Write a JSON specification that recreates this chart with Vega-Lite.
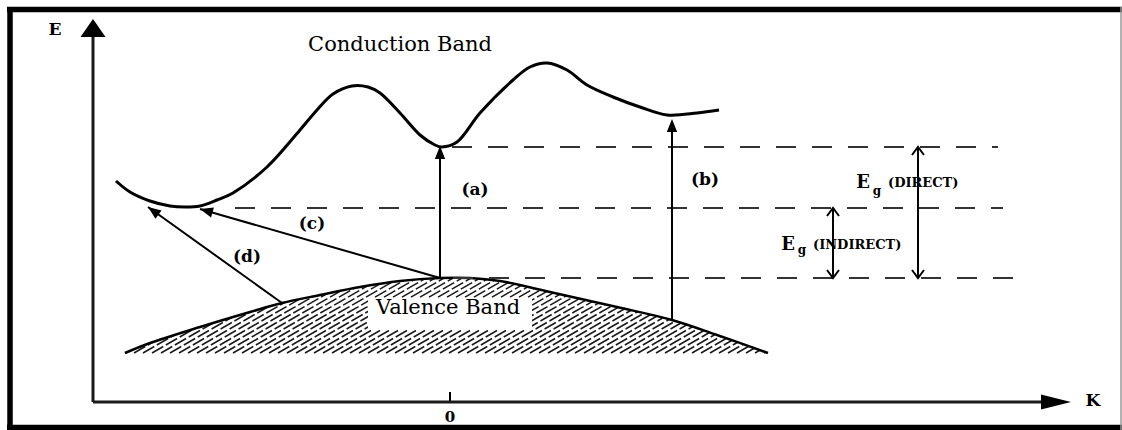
{
  "$schema": "https://vega.github.io/schema/vega-lite/v6.json",
  "width": 1122,
  "height": 430,
  "padding": 0,
  "autosize": {"type": "none"},
  "background": "white",
  "config": {"view": {"stroke": null}},
  "encoding": {
    "x": {"field": "k", "type": "quantitative", "scale": {"domain": [-450, 672], "nice": false, "zero": false}, "axis": null},
    "y": {"field": "e", "type": "quantitative", "scale": {"domain": [-27, 403], "nice": false, "zero": false}, "axis": null}
  },
  "datasets": {
    "hatch": [
      {"k": -325, "k2": -195, "e": 50, "e2": 125}, {"k": -316, "k2": -186, "e": 50, "e2": 125},
      {"k": -307, "k2": -177, "e": 50, "e2": 125}, {"k": -298, "k2": -168, "e": 50, "e2": 125},
      {"k": -289, "k2": -159, "e": 50, "e2": 125}, {"k": -280, "k2": -150, "e": 50, "e2": 125},
      {"k": -271, "k2": -141, "e": 50, "e2": 125}, {"k": -262, "k2": -132, "e": 50, "e2": 125},
      {"k": -253, "k2": -123, "e": 50, "e2": 125}, {"k": -244, "k2": -114, "e": 50, "e2": 125},
      {"k": -235, "k2": -105, "e": 50, "e2": 125}, {"k": -226, "k2": -96, "e": 50, "e2": 125},
      {"k": -217, "k2": -87, "e": 50, "e2": 125}, {"k": -208, "k2": -78, "e": 50, "e2": 125},
      {"k": -199, "k2": -69, "e": 50, "e2": 125}, {"k": -190, "k2": -60, "e": 50, "e2": 125},
      {"k": -181, "k2": -51, "e": 50, "e2": 125}, {"k": -172, "k2": -42, "e": 50, "e2": 125},
      {"k": -163, "k2": -33, "e": 50, "e2": 125}, {"k": -154, "k2": -24, "e": 50, "e2": 125},
      {"k": -145, "k2": -15, "e": 50, "e2": 125}, {"k": -136, "k2": -6, "e": 50, "e2": 125},
      {"k": -127, "k2": 3, "e": 50, "e2": 125}, {"k": -118, "k2": 12, "e": 50, "e2": 125},
      {"k": -109, "k2": 21, "e": 50, "e2": 125}, {"k": -100, "k2": 30, "e": 50, "e2": 125},
      {"k": -91, "k2": 39, "e": 50, "e2": 125}, {"k": -82, "k2": 48, "e": 50, "e2": 125},
      {"k": -73, "k2": 57, "e": 50, "e2": 125}, {"k": -64, "k2": 66, "e": 50, "e2": 125},
      {"k": -55, "k2": 75, "e": 50, "e2": 125}, {"k": -46, "k2": 84, "e": 50, "e2": 125},
      {"k": -37, "k2": 93, "e": 50, "e2": 125}, {"k": -28, "k2": 102, "e": 50, "e2": 125},
      {"k": -19, "k2": 111, "e": 50, "e2": 125}, {"k": -10, "k2": 120, "e": 50, "e2": 125},
      {"k": -1, "k2": 129, "e": 50, "e2": 125}, {"k": 8, "k2": 138, "e": 50, "e2": 125},
      {"k": 17, "k2": 147, "e": 50, "e2": 125}, {"k": 26, "k2": 156, "e": 50, "e2": 125},
      {"k": 35, "k2": 165, "e": 50, "e2": 125}, {"k": 44, "k2": 174, "e": 50, "e2": 125},
      {"k": 53, "k2": 183, "e": 50, "e2": 125}, {"k": 62, "k2": 192, "e": 50, "e2": 125},
      {"k": 71, "k2": 201, "e": 50, "e2": 125}, {"k": 80, "k2": 210, "e": 50, "e2": 125},
      {"k": 89, "k2": 219, "e": 50, "e2": 125}, {"k": 98, "k2": 228, "e": 50, "e2": 125},
      {"k": 107, "k2": 237, "e": 50, "e2": 125}, {"k": 116, "k2": 246, "e": 50, "e2": 125},
      {"k": 125, "k2": 255, "e": 50, "e2": 125}, {"k": 134, "k2": 264, "e": 50, "e2": 125},
      {"k": 143, "k2": 273, "e": 50, "e2": 125}, {"k": 152, "k2": 282, "e": 50, "e2": 125},
      {"k": 161, "k2": 291, "e": 50, "e2": 125}, {"k": 170, "k2": 300, "e": 50, "e2": 125},
      {"k": 179, "k2": 309, "e": 50, "e2": 125}, {"k": 188, "k2": 318, "e": 50, "e2": 125},
      {"k": 197, "k2": 327, "e": 50, "e2": 125}, {"k": 206, "k2": 336, "e": 50, "e2": 125},
      {"k": 215, "k2": 345, "e": 50, "e2": 125}, {"k": 224, "k2": 354, "e": 50, "e2": 125},
      {"k": 233, "k2": 363, "e": 50, "e2": 125}, {"k": 242, "k2": 372, "e": 50, "e2": 125},
      {"k": 251, "k2": 381, "e": 50, "e2": 125}, {"k": 260, "k2": 390, "e": 50, "e2": 125},
      {"k": 269, "k2": 399, "e": 50, "e2": 125}, {"k": 278, "k2": 408, "e": 50, "e2": 125},
      {"k": 287, "k2": 417, "e": 50, "e2": 125}, {"k": 296, "k2": 426, "e": 50, "e2": 125},
      {"k": 305, "k2": 435, "e": 50, "e2": 125}, {"k": 314, "k2": 444, "e": 50, "e2": 125}
    ],
    "valence": [
      {"k": -325, "e": 50, "sky": 132}, {"k": -300, "e": 60, "sky": 132}, {"k": -250, "e": 76, "sky": 132},
      {"k": -200, "e": 91, "sky": 132}, {"k": -168, "e": 100, "sky": 132}, {"k": -130, "e": 108, "sky": 132},
      {"k": -90, "e": 116, "sky": 132}, {"k": -50, "e": 122, "sky": 132}, {"k": -10, "e": 125, "sky": 132},
      {"k": 20, "e": 125, "sky": 132}, {"k": 50, "e": 122, "sky": 132}, {"k": 100, "e": 111, "sky": 132},
      {"k": 167, "e": 96, "sky": 132}, {"k": 222, "e": 83, "sky": 132}, {"k": 267, "e": 68, "sky": 132},
      {"k": 318, "e": 50, "sky": 132}
    ],
    "conduction": [
      {"k": -334, "e": 222}, {"k": -320, "e": 211}, {"k": -300, "e": 202}, {"k": -280, "e": 197},
      {"k": -265, "e": 196}, {"k": -250, "e": 197}, {"k": -233, "e": 203}, {"k": -217, "e": 210},
      {"k": -183, "e": 236}, {"k": -150, "e": 273}, {"k": -133, "e": 293}, {"k": -117, "e": 309},
      {"k": -98, "e": 317}, {"k": -82, "e": 316}, {"k": -70, "e": 310}, {"k": -50, "e": 290},
      {"k": -30, "e": 268}, {"k": -15, "e": 258}, {"k": -8, "e": 256}, {"k": 7, "e": 261},
      {"k": 30, "e": 290}, {"k": 63, "e": 323}, {"k": 80, "e": 336}, {"k": 97, "e": 340},
      {"k": 117, "e": 333}, {"k": 137, "e": 318}, {"k": 163, "e": 306}, {"k": 190, "e": 296},
      {"k": 217, "e": 288}, {"k": 247, "e": 290}, {"k": 269, "e": 293}
    ],
    "masks": [
      {"k": 316, "k2": 460, "e": 47, "e2": 132},
      {"k": -82, "k2": 82, "e": 73, "e2": 105}
    ],
    "levels": [
      {"k": 2, "k2": 548, "e": 256},
      {"k": -215, "k2": 553, "e": 195},
      {"k": 3, "k2": 565, "e": 125}
    ],
    "transitions": [
      {"k": -10, "k2": -10, "e": 125, "e2": 250},
      {"k": 222, "k2": 222, "e": 83, "e2": 278},
      {"k": -10, "k2": -250, "e": 125, "e2": 194},
      {"k": -168, "k2": -302, "e": 100, "e2": 196},
      {"k": 468, "k2": 468, "e": 125, "e2": 256},
      {"k": 383, "k2": 383, "e": 125, "e2": 195},
      {"k": 0, "k2": 0, "e": 1, "e2": 11}
    ],
    "heads": [
      {"k": -10, "e": 257, "angle": 0},
      {"k": 222, "e": 284, "angle": 0},
      {"k": -250, "e": 194, "angle": 286},
      {"k": -302, "e": 196, "angle": 306}
    ],
    "gapEnds": [
      {"k": 468, "e": 256, "angle": 0},
      {"k": 468, "e": 125, "angle": 180},
      {"k": 383, "e": 195, "angle": 0},
      {"k": 383, "e": 125, "angle": 180}
    ],
    "axes": [
      {"k": -357, "k2": -357, "e": 1, "e2": 370},
      {"k": -357, "k2": 598, "e": 1, "e2": 1}
    ],
    "eHead": [{"k": -357, "e": 384}],
    "kHead": [{"k": 621, "e": 1}],
    "frame": [
      {"k": -443, "k2": 672, "e": 393.5, "e2": 393.5},
      {"k": -440, "k2": -440, "e": 396, "e2": -27},
      {"k": -443, "k2": 672, "e": -24.5, "e2": -24.5}
    ],
    "frameRight": [{"k": 671, "k2": 671, "e": 396, "e2": -27}],
    "bandNames": [
      {"label": "Conduction Band", "k": -50, "e": 358},
      {"label": "Valence Band", "k": -2, "e": 95}
    ],
    "tags": [
      {"label": "(a)", "k": 25, "e": 213},
      {"label": "(b)", "k": 255, "e": 223},
      {"label": "(c)", "k": -138, "e": 179},
      {"label": "(d)", "k": -203, "e": 146}
    ],
    "axisNames": [
      {"label": "E", "k": -395, "e": 373},
      {"label": "K", "k": 643, "e": 2}
    ],
    "origin": [{"label": "0", "k": 0, "e": -14}],
    "gapE": [
      {"label": "E", "k": 413, "e": 220},
      {"label": "E", "k": 338, "e": 158}
    ],
    "gapSub": [
      {"label": "g", "k": 427, "e": 212},
      {"label": "g", "k": 352, "e": 153}
    ],
    "gapKind": [
      {"label": "(DIRECT)", "k": 438, "e": 220},
      {"label": "(INDIRECT)", "k": 363, "e": 158}
    ]
  },
  "layer": [
    {
      "data": {"name": "hatch"},
      "mark": {"type": "rule", "stroke": "#1a1a1a", "strokeWidth": 1.5, "strokeDash": [13, 3]},
      "encoding": {"x2": {"field": "k2"}, "y2": {"field": "e2"}}
    },
    {
      "data": {"name": "valence"},
      "mark": {"type": "area", "interpolate": "catmull-rom", "fill": "white", "opacity": 1, "orient": "vertical"},
      "encoding": {"y2": {"field": "sky"}}
    },
    {
      "data": {"name": "masks"},
      "mark": {"type": "rect", "fill": "white"},
      "encoding": {"x2": {"field": "k2"}, "y2": {"field": "e2"}}
    },
    {
      "data": {"name": "valence"},
      "mark": {"type": "line", "interpolate": "catmull-rom", "stroke": "#000", "strokeWidth": 2.5},
      "encoding": {}
    },
    {
      "data": {"name": "conduction"},
      "mark": {"type": "line", "interpolate": "catmull-rom", "stroke": "#000", "strokeWidth": 3},
      "encoding": {}
    },
    {
      "data": {"name": "levels"},
      "mark": {"type": "rule", "stroke": "#333", "strokeWidth": 2, "strokeDash": [20, 16]},
      "encoding": {"x2": {"field": "k2"}}
    },
    {
      "data": {"name": "transitions"},
      "mark": {"type": "rule", "stroke": "#000", "strokeWidth": 2},
      "encoding": {"x2": {"field": "k2"}, "y2": {"field": "e2"}}
    },
    {
      "data": {"name": "heads"},
      "mark": {"type": "point", "shape": "M0,0L-0.8,2L0.8,2Z", "size": 169, "filled": true, "fill": "#000", "opacity": 1},
      "encoding": {"angle": {"field": "angle", "type": "quantitative", "scale": null}}
    },
    {
      "data": {"name": "gapEnds"},
      "mark": {"type": "point", "shape": "M-1.5,2L0,0L1.5,2", "size": 64, "filled": false, "stroke": "#000", "strokeWidth": 2, "opacity": 1},
      "encoding": {"angle": {"field": "angle", "type": "quantitative", "scale": null}}
    },
    {
      "data": {"name": "axes"},
      "mark": {"type": "rule", "stroke": "#1a1a1a", "strokeWidth": 3},
      "encoding": {"x2": {"field": "k2"}, "y2": {"field": "e2"}}
    },
    {
      "data": {"name": "eHead"},
      "mark": {"type": "point", "shape": "M0,0L-1.25,1.8L1.25,1.8Z", "size": 400, "filled": true, "fill": "#000", "opacity": 1},
      "encoding": {}
    },
    {
      "data": {"name": "kHead"},
      "mark": {"type": "point", "shape": "M0,0L-0.75,3L0.75,3Z", "size": 400, "filled": true, "fill": "#000", "opacity": 1, "angle": 90},
      "encoding": {}
    },
    {
      "data": {"name": "frame"},
      "mark": {"type": "rule", "stroke": "#000", "strokeWidth": 5.5},
      "encoding": {"x2": {"field": "k2"}, "y2": {"field": "e2"}}
    },
    {
      "data": {"name": "frameRight"},
      "mark": {"type": "rule", "stroke": "#999", "strokeWidth": 1.5},
      "encoding": {"x2": {"field": "k2"}, "y2": {"field": "e2"}}
    },
    {
      "data": {"name": "bandNames"},
      "mark": {"type": "text", "font": "DejaVu Serif", "fontSize": 21, "color": "#000"},
      "encoding": {"text": {"field": "label"}}
    },
    {
      "data": {"name": "tags"},
      "mark": {"type": "text", "font": "DejaVu Serif", "fontSize": 17, "fontWeight": "bold", "color": "#000"},
      "encoding": {"text": {"field": "label"}}
    },
    {
      "data": {"name": "axisNames"},
      "mark": {"type": "text", "font": "DejaVu Serif", "fontSize": 17, "fontWeight": "bold", "color": "#000"},
      "encoding": {"text": {"field": "label"}}
    },
    {
      "data": {"name": "origin"},
      "mark": {"type": "text", "font": "DejaVu Serif", "fontSize": 15, "fontWeight": "bold", "color": "#000"},
      "encoding": {"text": {"field": "label"}}
    },
    {
      "data": {"name": "gapE"},
      "mark": {"type": "text", "font": "DejaVu Serif", "fontSize": 18, "fontWeight": "bold", "color": "#000"},
      "encoding": {"text": {"field": "label"}}
    },
    {
      "data": {"name": "gapSub"},
      "mark": {"type": "text", "font": "DejaVu Serif", "fontSize": 12, "fontWeight": "bold", "color": "#000"},
      "encoding": {"text": {"field": "label"}}
    },
    {
      "data": {"name": "gapKind"},
      "mark": {"type": "text", "font": "DejaVu Serif", "fontSize": 13, "fontWeight": "bold", "align": "left", "color": "#000"},
      "encoding": {"text": {"field": "label"}}
    }
  ]
}
